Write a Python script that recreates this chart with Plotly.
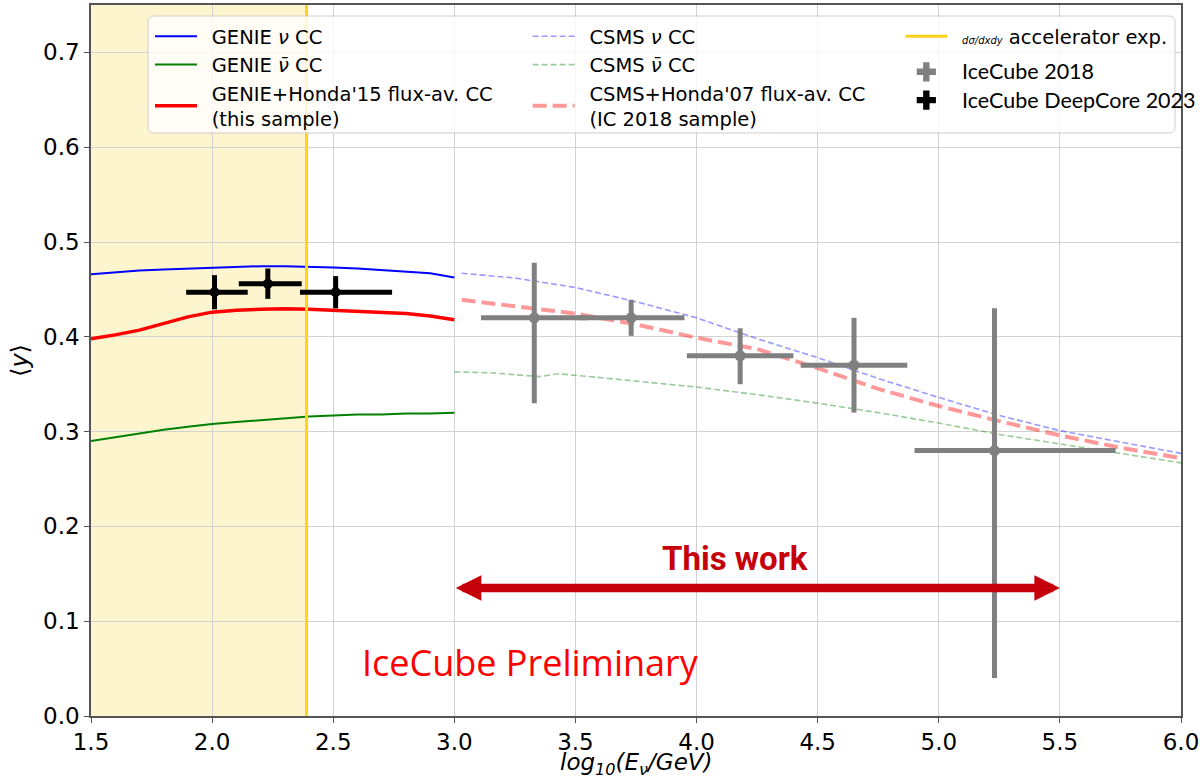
import plotly.graph_objects as go

# ---------------- data ----------------
# GENIE curves (this sample), x = log10(E/GeV)
genie_E = [1.5, 1.6, 1.7, 1.8, 1.9, 2.0, 2.1, 2.2, 2.3, 2.4, 2.5, 2.6, 2.7, 2.8, 2.9, 3.0]
genie_nu = [0.466, 0.468, 0.470, 0.471, 0.472, 0.473, 0.474, 0.4745, 0.4745, 0.474, 0.473,
            0.472, 0.4705, 0.469, 0.467, 0.4625]
genie_nubar = [0.290, 0.294, 0.298, 0.302, 0.305, 0.308, 0.310, 0.312, 0.314, 0.316, 0.317,
               0.318, 0.318, 0.319, 0.319, 0.320]
genie_flux = [0.398, 0.402, 0.407, 0.414, 0.421, 0.426, 0.428, 0.429, 0.4295, 0.429, 0.428,
              0.427, 0.426, 0.4245, 0.422, 0.418]

# CSMS curves
csms_E = [3.03, 3.25, 3.5, 3.75, 4.0, 4.25, 4.5, 4.75, 5.0, 5.25, 5.5, 5.75, 6.0]
csms_nu = [0.467, 0.462, 0.452, 0.437, 0.420, 0.398, 0.378, 0.356, 0.336, 0.317, 0.301, 0.289, 0.277]
csms_flux = [0.439, 0.432, 0.4245, 0.413, 0.399, 0.387, 0.367, 0.345, 0.327, 0.311, 0.296, 0.283, 0.272]
csms_nubar_E = [3.0, 3.15, 3.35, 3.43, 3.6, 3.8, 4.0, 4.25, 4.5, 4.75, 5.0, 5.25, 5.5, 5.75, 6.0]
csms_nubar = [0.363, 0.362, 0.358, 0.361, 0.357, 0.352, 0.347, 0.339, 0.330, 0.320, 0.309,
              0.297, 0.287, 0.277, 0.267]

# upper edge of accelerator measurements
accel_E_max = [2.39, 2.39]
accel_y = [0.0, 0.75]

# IceCube 2018
ic18_E = [3.33, 3.73, 4.18, 4.65, 5.23]
ic18_y = [0.42, 0.42, 0.38, 0.37, 0.28]
ic18_E_minus = [0.22, 0.22, 0.22, 0.22, 0.33]
ic18_E_plus = [0.22, 0.22, 0.22, 0.22, 0.50]
ic18_y_minus = [0.090, 0.019, 0.030, 0.050, 0.240]
ic18_y_plus = [0.058, 0.019, 0.029, 0.050, 0.150]

# IceCube DeepCore 2023
dc_E = [2.01, 2.23, 2.51]
dc_y = [0.447, 0.456, 0.447]
dc_E_minus = [0.117, 0.12, 0.147]
dc_E_plus = [0.137, 0.14, 0.233]
dc_y_err = [0.018, 0.016, 0.017]

# "This work" energy range
this_work_E = [3.0, 5.5]
this_work_y = 0.135

# ---------------- figure ----------------
SP = "\u2002"  # small lead-in gap between legend symbol and text

fig = go.Figure()

fig.add_trace(go.Scatter(x=genie_E, y=genie_nu, mode="lines", name=SP + "GENIE <i>ν</i> CC",
                         line=dict(color="#0000ff", width=2), legend="legend"))
fig.add_trace(go.Scatter(x=genie_E, y=genie_nubar, mode="lines", name=SP + "GENIE <i>ν̄</i> CC",
                         line=dict(color="#008000", width=2), legend="legend"))
fig.add_trace(go.Scatter(x=genie_E, y=genie_flux, mode="lines",
                         name=SP + "GENIE+Honda'15 flux-av. CC<br>" + SP + "(this sample)",
                         line=dict(color="#ff0000", width=3.5), legend="legend"))

fig.add_trace(go.Scatter(x=csms_E, y=csms_nu, mode="lines", name=SP + "CSMS <i>ν</i> CC",
                         line=dict(color="rgba(0,0,255,0.4)", width=1.6, dash="6px,3px"),
                         legend="legend2"))
fig.add_trace(go.Scatter(x=csms_nubar_E, y=csms_nubar, mode="lines", name=SP + "CSMS <i>ν̄</i> CC",
                         line=dict(color="rgba(0,128,0,0.4)", width=1.6, dash="6px,3px"),
                         legend="legend2"))
fig.add_trace(go.Scatter(x=csms_E, y=csms_flux, mode="lines",
                         name=SP + "CSMS+Honda'07 flux-av. CC<br>" + SP + "(IC 2018 sample)",
                         line=dict(color="rgba(255,0,0,0.4)", width=4, dash="14px,6px"),
                         legend="legend2"))

fig.add_trace(go.Scatter(x=accel_E_max, y=accel_y, mode="lines",
                         name=SP + "<span style='font-size:10px'><i>dσ/dxdy</i></span> accelerator exp.",
                         line=dict(color="#FFD21A", width=3), legend="legend3"))

fig.add_trace(go.Scatter(x=ic18_E, y=ic18_y, mode="markers", showlegend=False,
                         marker=dict(color="#808080", size=11),
                         error_x=dict(type="data", symmetric=False, array=ic18_E_plus,
                                      arrayminus=ic18_E_minus, color="#808080", thickness=5, width=0),
                         error_y=dict(type="data", symmetric=False, array=ic18_y_plus,
                                      arrayminus=ic18_y_minus, color="#808080", thickness=5, width=0)))
fig.add_trace(go.Scatter(x=dc_E, y=dc_y, mode="markers", showlegend=False,
                         marker=dict(color="#000000", size=10),
                         error_x=dict(type="data", symmetric=False, array=dc_E_plus,
                                      arrayminus=dc_E_minus, color="#000000", thickness=5, width=0),
                         error_y=dict(type="data", array=dc_y_err, color="#000000",
                                      thickness=5, width=0)))

fig.add_trace(go.Scatter(x=[None], y=[None], mode="markers",
                         name=SP + "<span style='font-size:21.5px'>IceCube 2018</span>",
                         marker=dict(color="#808080", size=16, symbol="cross"), legend="legend4"))
fig.add_trace(go.Scatter(x=[None], y=[None], mode="markers",
                         name=SP + "<span style='font-size:21.5px'>IceCube DeepCore 2023</span>",
                         marker=dict(color="#000000", size=16, symbol="cross"), legend="legend4"))

# shaded accelerator region
fig.add_shape(type="rect", xref="x", yref="paper", x0=1.5, x1=accel_E_max[0], y0=0, y1=1,
              fillcolor="#FDF5CE", line=dict(width=0), layer="below")

# legend frame
x0, x1, y0, y1, rx, ry = 0.0523, 0.9945, 0.820, 0.9845, 0.0055, 0.0084
path = (f"M{x0+rx},{y0} L{x1-rx},{y0} Q{x1},{y0} {x1},{y0+ry} L{x1},{y1-ry} Q{x1},{y1} {x1-rx},{y1} "
        f"L{x0+rx},{y1} Q{x0},{y1} {x0},{y1-ry} L{x0},{y0+ry} Q{x0},{y0} {x0+rx},{y0} Z")
fig.add_shape(type="path", xref="paper", yref="paper", path=path,
              fillcolor="rgba(255,255,255,0.8)", line=dict(color="rgba(200,200,200,0.9)", width=1),
              layer="above")

# arrow and texts
fig.add_annotation(x=this_work_E[1], y=this_work_y, ax=this_work_E[0], ay=this_work_y,
                   xref="x", yref="y", axref="x", ayref="y", text="", showarrow=True,
                   arrowhead=2, startarrowhead=2, arrowside="end+start",
                   arrowwidth=8.5, arrowsize=0.6, startarrowsize=0.6, arrowcolor="#C5000B",
                   font=dict(size=1))
fig.add_annotation(x=4.16, y=0.166, xref="x", yref="y", text="<b>This work</b>", showarrow=False,
                   font=dict(family="Roboto, sans-serif", size=33, color="#C5000B"))
fig.add_annotation(x=3.316, y=0.056, xref="x", yref="y", text="IceCube Preliminary", showarrow=False,
                   font=dict(family="Open Sans, sans-serif", size=36, color="#ff0000"))
# x-axis title
fig.add_annotation(x=0.5, y=-0.068, xref="paper", yref="paper", yanchor="middle",
                   text="<i>log<sub>10</sub>(E<sub>ν</sub>/GeV)</i>", showarrow=False,
                   font=dict(family="DejaVu Sans", size=23, color="#000000"))

axis_common = dict(showgrid=True, gridcolor="#d2d2d2", gridwidth=1.3, showline=True,
                   linecolor="#555555", linewidth=1.5, mirror=True, ticks="outside",
                   ticklen=5, tickcolor="#555555", zeroline=False,
                   tickfont=dict(family="DejaVu Sans", size=23, color="#000000"))

leg_common = dict(xanchor="left", yanchor="top", bgcolor="rgba(0,0,0,0)", borderwidth=0,
                  itemwidth=42, traceorder="normal")

fig.update_layout(
    width=1203, height=779,
    margin=dict(l=91, r=22, t=5, b=63, autoexpand=False),
    plot_bgcolor="white", paper_bgcolor="white",
    font=dict(family="DejaVu Sans", color="#000000"),
    xaxis=dict(range=[1.5, 6.0], dtick=0.5, tick0=1.5, tickformat=".1f", **axis_common),
    yaxis=dict(range=[0, 0.75], dtick=0.1, tick0=0, tickformat=".1f",
               title=dict(text="⟨<i>y</i>⟩", font=dict(family="DejaVu Sans", size=24), standoff=8),
               **axis_common),
    legend=dict(x=0.0541, y=0.983, font=dict(family="DejaVu Sans", size=19.5), **leg_common),
    legend2=dict(x=0.4006, y=0.983, font=dict(family="DejaVu Sans", size=19.5), **leg_common),
    legend3=dict(x=0.7425, y=0.983, font=dict(family="DejaVu Sans", size=19.5), **leg_common),
    legend4=dict(x=0.7425, y=0.933, font=dict(family="Lato", size=19.5), **leg_common),
)

fig.write_html("out.html")
